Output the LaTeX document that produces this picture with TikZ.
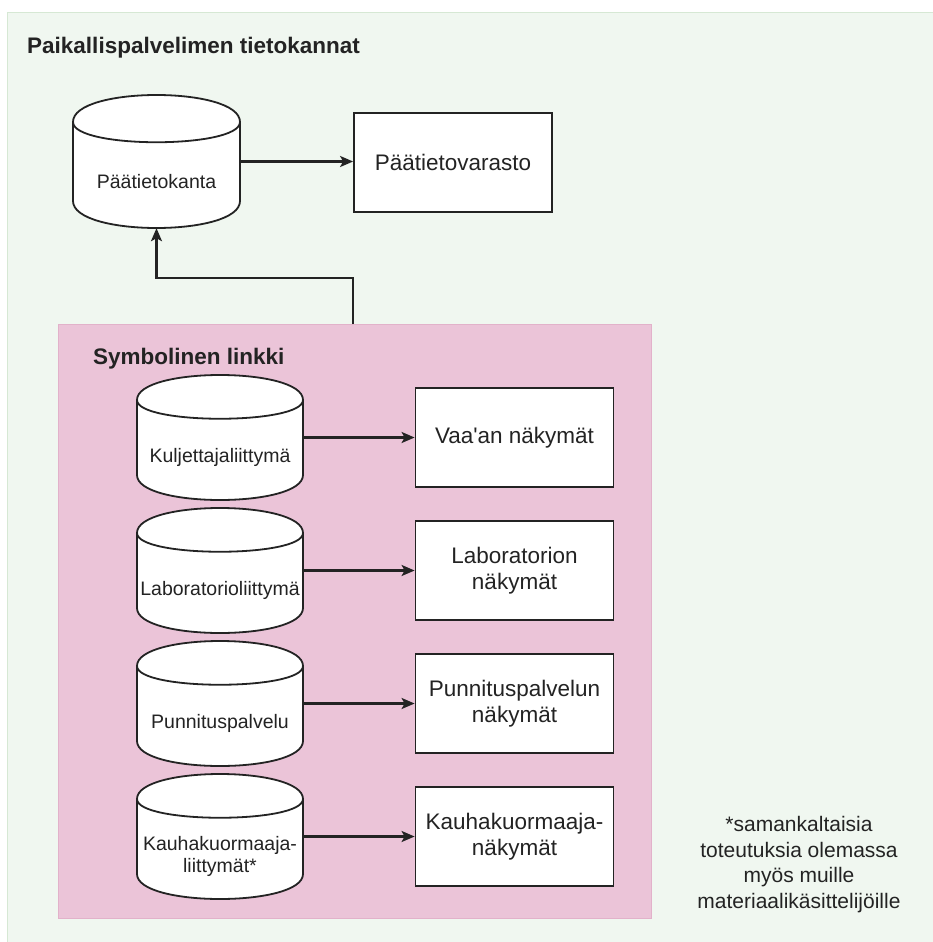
\documentclass[tikz,border=0pt]{standalone}
\usepackage{fontspec}
\setmainfont{Liberation Sans}
\usetikzlibrary{arrows.meta,calc}
\definecolor{outerfill}{RGB}{240,247,240}
\definecolor{outerline}{RGB}{214,232,212}
\definecolor{pinkfill}{RGB}{235,196,216}
\definecolor{pinkline}{RGB}{226,178,202}
\definecolor{ink}{RGB}{35,35,35}
\tikzset{
  cylline/.style={draw=ink, fill=white, line width=1.8},
  shapebox/.style={draw=none, inner sep=0, rectangle},
  cyltext/.style={text=ink, inner sep=0, align=center, font=\fontsize{19.5}{22}\selectfont},
  viewbox/.style={draw=ink, fill=white, line width=1.8, minimum width=198, minimum height=99, inner sep=0, align=center, text=ink, font=\fontsize{22.5}{26}\selectfont},
  arr/.style={draw=ink, line width=2.2, -{Stealth[length=13,width=11,inset=3]}},
  heading/.style={text=ink, inner sep=0, anchor=west, font=\bfseries\fontsize{22.5}{26}\selectfont},
  notetext/.style={text=ink, inner sep=0, align=center, font=\fontsize{21}{25.7}\selectfont}
}
\newcommand\dbcyl[6]{%
  \pgfmathsetmacro\cdy{round(#5/5)}%
  \filldraw[cylline] (#2,#3+\cdy) .. controls (#2,#3-\cdy/3) and (#2+#4,#3-\cdy/3) .. (#2+#4,#3+\cdy) -- (#2+#4,#3+#5-\cdy) .. controls (#2+#4,#3+#5+\cdy/3) and (#2,#3+#5+\cdy/3) .. (#2,#3+#5-\cdy) -- cycle;
  \draw[cylline, fill=none] (#2,#3+\cdy) .. controls (#2,#3+2*\cdy) and (#2+#4,#3+2*\cdy) .. (#2+#4,#3+\cdy);
  \node[shapebox, minimum width=#4, minimum height=#5] (#1) at (#2+#4/2,#3+#5/2) {};
  \node[cyltext] (#1-label) at (#2+#4/2,#3+#5/2+20) {#6};
}
\begin{document}
\begin{tikzpicture}[x=1pt, y=-1pt]
\useasboundingbox (0,0) rectangle (932,942);
\fill[white] (0,0) rectangle (932,942);
\node[draw=outerline, fill=outerfill, line width=1.2, minimum width=940, minimum height=946, anchor=north west, inner sep=0] (outer) at (7,12) {};
\node[heading] (title) at (27,48) {Paikallispalvelimen tietokannat};

\dbcyl{c0}{73}{95}{167}{133}{Päätietokanta}
\node[viewbox] (b0) at (453,162.5) {Päätietovarasto};
\draw[arr] (c0.east) -- (c0.east -| b0.west);

\node[draw=pinkline, fill=pinkfill, line width=1.2, minimum width=593, minimum height=594, anchor=north west, inner sep=0] (grp) at (58,324) {};
\node[heading] (grptitle) at (93,359) {Symbolinen linkki};

\dbcyl{k1}{137}{375}{166}{125}{Kuljettajaliittymä}
\dbcyl{k2}{137}{508}{166}{125}{Laboratorioliittymä}
\dbcyl{k3}{137}{641}{166}{125}{Punnituspalvelu}
\dbcyl{k4}{137}{774}{166}{125}{Kauhakuormaaja-\\liittymät*}

\node[viewbox] (b1) at (514.5,437.5) {Vaa\textquotesingle an näkymät};
\node[viewbox] (b2) at (514.5,570.5) {Laboratorion\\näkymät};
\node[viewbox] (b3) at (514.5,703.5) {Punnituspalvelun\\näkymät};
\node[viewbox] (b4) at (514.5,836.5) {Kauhakuormaaja-\\näkymät};

\draw[arr] (k1.east) -- (b1.west);
\draw[arr] (k2.east) -- (b2.west);
\draw[arr] (k3.east) -- (b3.west);
\draw[arr] (k4.east) -- (b4.west);

\draw[arr] (b0.west |- grp.north) -- ++(0,-46) -| (c0.south);

\node[notetext] (note) at (799,864.5) {*samankaltaisia\\toteutuksia olemassa\\myös muille\\materiaalikäsittelijöille};
\end{tikzpicture}
\end{document}
